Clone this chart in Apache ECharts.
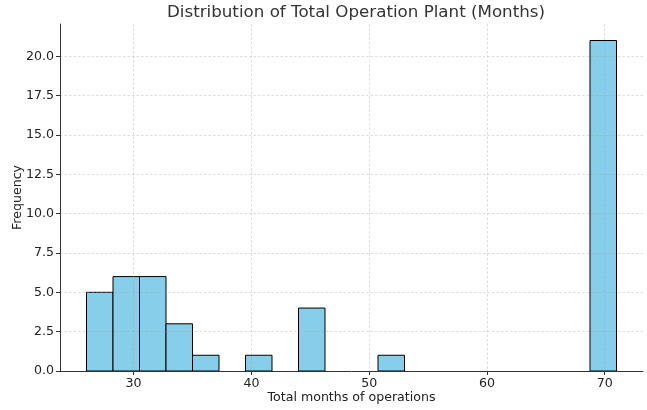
<!DOCTYPE html>
<html>
<head>
<meta charset="utf-8">
<script src="https://cdn.jsdelivr.net/npm/echarts@6/dist/echarts.min.js"></script>
<style>
  html, body { margin: 0; padding: 0; background: #fff; }
  #chart { width: 647px; height: 410px; }
</style>
</head>
<body>
<div id="chart"></div>
<script>
// histogram bins (months) and their counts
var binStarts = [26, 28.25, 30.5, 32.75, 35, 37.25, 39.5, 41.75, 44, 46.25, 48.5, 50.75, 53, 55.25, 57.5, 59.75, 62, 64.25, 66.5, 68.75];
var binEnds   = [28.25, 30.5, 32.75, 35, 37.25, 39.5, 41.75, 44, 46.25, 48.5, 50.75, 53, 55.25, 57.5, 59.75, 62, 64.25, 66.5, 68.75, 71];
var counts    = [5, 6, 6, 3, 1, 0, 1, 0, 4, 0, 0, 1, 0, 0, 0, 0, 0, 0, 0, 21];
var xTicks = [30, 40, 50, 60, 70];
var yTicks = [0, 2.5, 5, 7.5, 10, 12.5, 15, 17.5, 20];

var font = 'DejaVu Sans';
var chart = echarts.init(document.getElementById('chart'));

var data = binStarts.map(function(s, i) { return [s, binEnds[i], counts[i]]; });

chart.setOption({
  animation: false,
  title: {
    text: 'Distribution of Total Operation Plant (Months)',
    left: 351, top: -1, textAlign: 'center',
    textStyle: { fontFamily: font, fontSize: 16.7, fontWeight: 'normal', color: '#333' }
  },
  grid: { left: 60, right: 4, top: 24, bottom: 39, outerBoundsMode: 'none' },
  xAxis: {
    type: 'value', min: 23.75, max: 73.25, z: 5,
    name: 'Total months of operations', nameLocation: 'middle', nameGap: 20,
    nameMoveOverlap: false,
    nameTextStyle: { fontFamily: font, fontSize: 12.6, color: '#222' },
    axisLine: { lineStyle: { color: '#333', width: 1 } },
    axisTick: { show: true, customValues: xTicks, length: 4, lineStyle: { color: '#333' } },
    axisLabel: { customValues: xTicks, fontFamily: font, fontSize: 12.6, color: '#222', margin: 6 },
    splitLine: { show: true, customValues: xTicks, lineStyle: { color: 'rgba(160,160,160,0.45)', type: [2.5, 2], width: 0.8 } }
  },
  yAxis: {
    type: 'value', min: 0, max: 22.05, z: 5,
    name: 'Frequency', nameLocation: 'middle', nameGap: 36,
    nameMoveOverlap: false,
    nameTextStyle: { fontFamily: font, fontSize: 12.6, color: '#222' },
    axisLine: { show: true, lineStyle: { color: '#333', width: 1 } },
    axisTick: { show: true, customValues: yTicks, length: 4, lineStyle: { color: '#333' } },
    axisLabel: {
      customValues: yTicks, fontFamily: font, fontSize: 12.6, color: '#222', margin: 6,
      formatter: function(v) { return v.toFixed(1); }
    },
    splitLine: { show: true, customValues: yTicks, lineStyle: { color: 'rgba(160,160,160,0.45)', type: [2.5, 2], width: 0.8 } }
  },
  series: [{
    type: 'custom',
    data: data,
    encode: { x: [0, 1], y: 2 },
    renderItem: function(params, api) {
      if (api.value(2) <= 0) return;
      var p0 = api.coord([api.value(0), api.value(2)]);
      var p1 = api.coord([api.value(1), 0]);
      return {
        type: 'rect',
        shape: { x: p0[0], y: p0[1], width: p1[0] - p0[0], height: p1[1] - p0[1] },
        style: { fill: '#87ceeb', stroke: '#000', lineWidth: 1 }
      };
    }
  }]
});
</script>
</body>
</html>
